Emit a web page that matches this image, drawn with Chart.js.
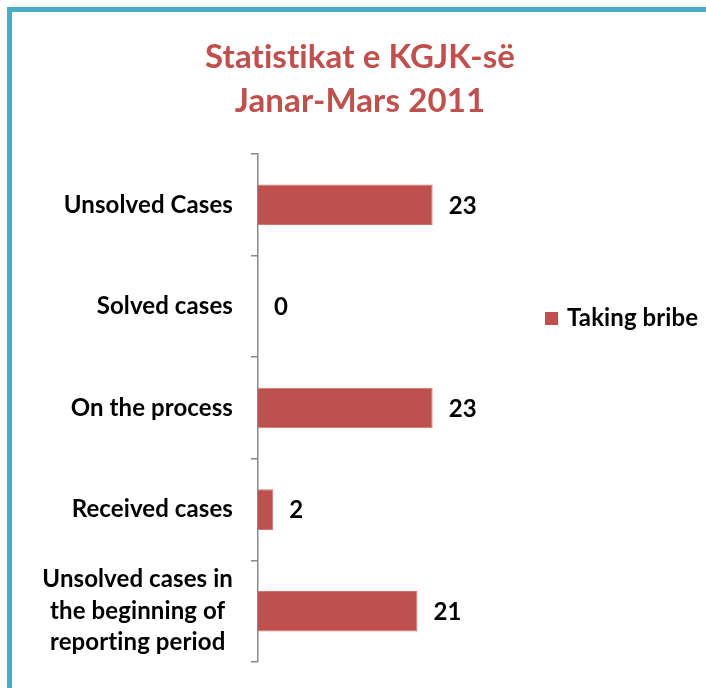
<!DOCTYPE html>
<html>
<head>
<meta charset="utf-8">
<script src="https://cdn.jsdelivr.net/npm/chart.js@4.4.1/dist/chart.umd.min.js"></script>
<style>
  html, body { margin: 0; padding: 0; background: #ffffff; }
  #wrap { position: relative; width: 706px; height: 688px; overflow: hidden; }
  #frameTop { position: absolute; left: 7px; top: 7px; width: 699px; height: 5px; background: #4bacc6; }
  #frameLeft { position: absolute; left: 7px; top: 7px; width: 5px; height: 681px; background: #4bacc6; }
  canvas { position: absolute; left: 0; top: 0; }
</style>
</head>
<body>
<div id="wrap">
  <canvas id="c" width="706" height="688"></canvas>
  <div id="frameTop"></div>
  <div id="frameLeft"></div>
</div>
<script>
const titleLines = ['Statistikat e KGJK-së', 'Janar-Mars 2011'];
const categories = [
  'Unsolved Cases',
  'Solved cases',
  'On the process',
  'Received cases',
  ['Unsolved cases in', 'the beginning of', 'reporting period']
];
const seriesName = 'Taking bribe';
const seriesValues = [23, 0, 23, 2, 21];

const FONT = 'Lato, "Open Sans", sans-serif';
const RED = '#c0504d';
const AXIS = '#898989';

const noLigatures = {
  id: 'noLigatures',
  beforeDraw(chart) {
    if ('letterSpacing' in chart.ctx) chart.ctx.letterSpacing = '0.1px';
  }
};

const labelPlugin = {
  id: 'catLabels',
  afterDraw(chart) {
    const ctx = chart.ctx;
    const y = chart.scales.y;
    ctx.save();
    ctx.font = 'bold 24px ' + FONT;
    ctx.fillStyle = '#000000';
    ctx.textBaseline = 'middle';
    const rightX = y.right - 7 - 18;
    const lh = 31.5;
    chart.data.labels.forEach((lab, i) => {
      const lines = Array.isArray(lab) ? lab : [lab];
      const cy = y.getPixelForTick(i);
      const w = Math.max(...lines.map(l => ctx.measureText(l).width));
      const cx = rightX - w / 2;
      ctx.textAlign = 'center';
      lines.forEach((l, k) => {
        const ly = cy + (k - (lines.length - 1) / 2) * lh;
        ctx.fillText(l, cx, ly);
      });
    });
    ctx.restore();
  }
};

const valuePlugin = {
  id: 'valueLabels',
  afterDatasetsDraw(chart) {
    const ctx = chart.ctx;
    ctx.save();
    ctx.font = 'bold 24px ' + FONT;
    ctx.fillStyle = '#000000';
    ctx.textBaseline = 'middle';
    ctx.textAlign = 'left';
    chart.data.datasets.forEach((ds, di) => {
      const meta = chart.getDatasetMeta(di);
      meta.data.forEach((bar, i) => {
        ctx.fillText(String(ds.data[i]), bar.x + 16, bar.y + 1);
      });
    });
    ctx.restore();
  }
};

const legendPlugin = {
  id: 'sideLegend',
  afterDraw(chart) {
    const ctx = chart.ctx;
    ctx.save();
    chart.data.datasets.forEach((ds, di) => {
      const top = 312 + di * 30;
      ctx.fillStyle = ds.backgroundColor;
      ctx.fillRect(545, top, 13, 13);
      ctx.font = 'bold 24px ' + FONT;
      ctx.fillStyle = '#000000';
      ctx.textBaseline = 'middle';
      ctx.textAlign = 'left';
      ctx.fillText(ds.label, 567, top + 6.5);
    });
    ctx.restore();
  }
};

new Chart(document.getElementById('c'), {
  type: 'bar',
  data: {
    labels: categories,
    datasets: [{
      label: seriesName,
      data: seriesValues,
      backgroundColor: RED,
      borderColor: '#d27572',
      borderWidth: 1,
      categoryPercentage: 1,
      barPercentage: 0.4
    }]
  },
  options: {
    responsive: false,
    animation: false,
    indexAxis: 'y',
    layout: { padding: { left: 14, right: 0, top: 0, bottom: 26 } },
    plugins: {
      legend: { display: false },
      tooltip: { enabled: false },
      title: {
        display: true,
        text: titleLines,
        color: RED,
        font: { family: FONT, size: 33, weight: 'bold', lineHeight: 1.333 },
        padding: { top: 35, bottom: 31 }
      }
    },
    scales: {
      x: { display: false, min: 0, max: 59 },
      y: {
        afterFit(scale) { scale.width = 244; },
        grid: { drawOnChartArea: false, drawTicks: true, tickLength: 7, color: AXIS, lineWidth: 1.5, offset: true },
        border: { display: true, color: AXIS, width: 1.5 },
        ticks: { display: false }
      }
    }
  },
  plugins: [noLigatures, labelPlugin, valuePlugin, legendPlugin]
});
</script>
</body>
</html>
